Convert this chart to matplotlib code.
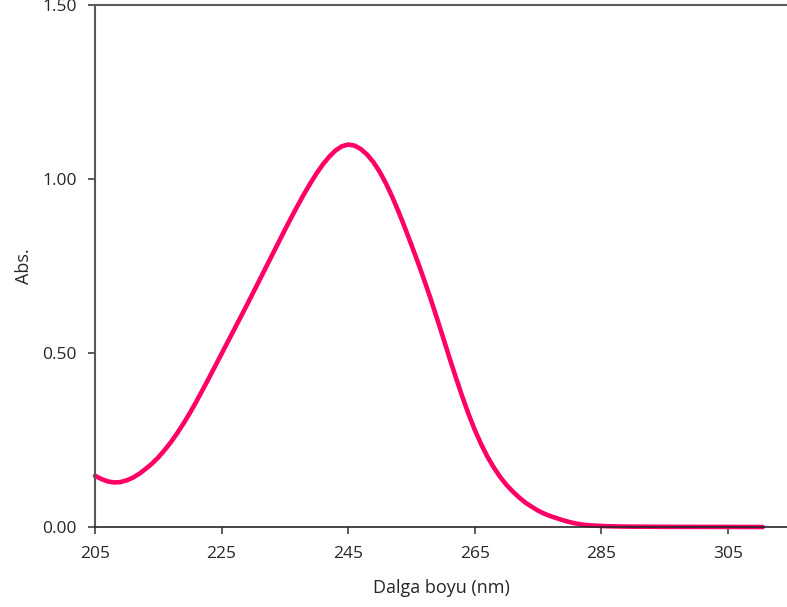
import matplotlib
matplotlib.use("Agg")
import matplotlib.pyplot as plt

wavelength = [205, 206, 207, 208, 209, 210, 211, 212, 213, 214, 215, 216, 217, 218, 219,
              220, 221, 222, 223, 224, 225, 226, 227, 228, 229, 230, 231, 232, 233, 234,
              235, 236, 237, 238, 239, 240, 241, 242, 243, 244, 245, 246, 247, 248, 249,
              250, 251, 252, 253, 254, 255, 256, 257, 258, 259, 260, 261, 262, 263, 264,
              265, 266, 267, 268, 269, 270, 271, 272, 273, 274, 275, 276, 277, 278, 279,
              280, 281, 282, 283, 284, 285, 286, 288, 290, 293, 296, 300, 305, 310.5]
absorbance = [0.147, 0.138, 0.131, 0.128, 0.129, 0.134, 0.142, 0.153, 0.167, 0.182, 0.200,
              0.221, 0.244, 0.270, 0.298, 0.328, 0.360, 0.394, 0.428, 0.463, 0.498, 0.533,
              0.568, 0.603, 0.638, 0.674, 0.710, 0.746, 0.782, 0.818, 0.854, 0.889, 0.923,
              0.956, 0.987, 1.016, 1.042, 1.064, 1.082, 1.094, 1.099, 1.096, 1.086, 1.070,
              1.048, 1.020, 0.986, 0.947, 0.904, 0.858, 0.810, 0.761, 0.710, 0.657, 0.601,
              0.544, 0.486, 0.430, 0.376, 0.325, 0.279, 0.238, 0.202, 0.171, 0.144, 0.121,
              0.102, 0.085, 0.070, 0.058, 0.047, 0.038, 0.031, 0.025, 0.019, 0.014, 0.010,
              0.007, 0.005, 0.004, 0.003, 0.0022, 0.0015, 0.001, 0.0007, 0.0005, 0.0003,
              0.0002, 0.0]

x_ticks = [205, 225, 245, 265, 285, 305]
y_ticks = [0.0, 0.5, 1.0, 1.5]
y_tick_labels = ["0.00", "0.50", "1.00", "1.50"]

plt.rcParams['font.family'] = ['Open Sans', 'DejaVu Sans']
text_color = '#262626'

fig = plt.figure(figsize=(7.87, 6.07), dpi=100)
ax = fig.add_axes([95/787, 80/607, 1 - 95/787, (527 - 5)/607])

ax.plot(wavelength, absorbance, color='#FF0066', lw=3.3, solid_capstyle='round',
        solid_joinstyle='round', clip_on=False)

ax.set_xlim(205, 205 + (787 - 95) / 6.33)
ax.set_ylim(0, 1.5)
ax.set_xticks(x_ticks)
ax.set_xticklabels([str(t) for t in x_ticks])
ax.set_yticks(y_ticks)
ax.set_yticklabels(y_tick_labels)

for s in ['left', 'top']:
    ax.spines[s].set_color('#595959')
    ax.spines[s].set_linewidth(1.5)
ax.spines['bottom'].set_color('#262626')
ax.spines['bottom'].set_linewidth(1.2)
ax.spines['right'].set_visible(False)

ax.tick_params(axis='both', direction='out', length=5, width=1.2, colors='#404040',
               labelcolor=text_color, labelsize=12.5)
ax.tick_params(axis='x', pad=9)
ax.tick_params(axis='y', pad=8)

ax.set_xlabel('Dalga boyu (nm)', fontsize=13, color=text_color, labelpad=12)
ax.set_ylabel('Abs.', fontsize=13, color=text_color, labelpad=7)

fig.savefig('out.png', dpi=100)
